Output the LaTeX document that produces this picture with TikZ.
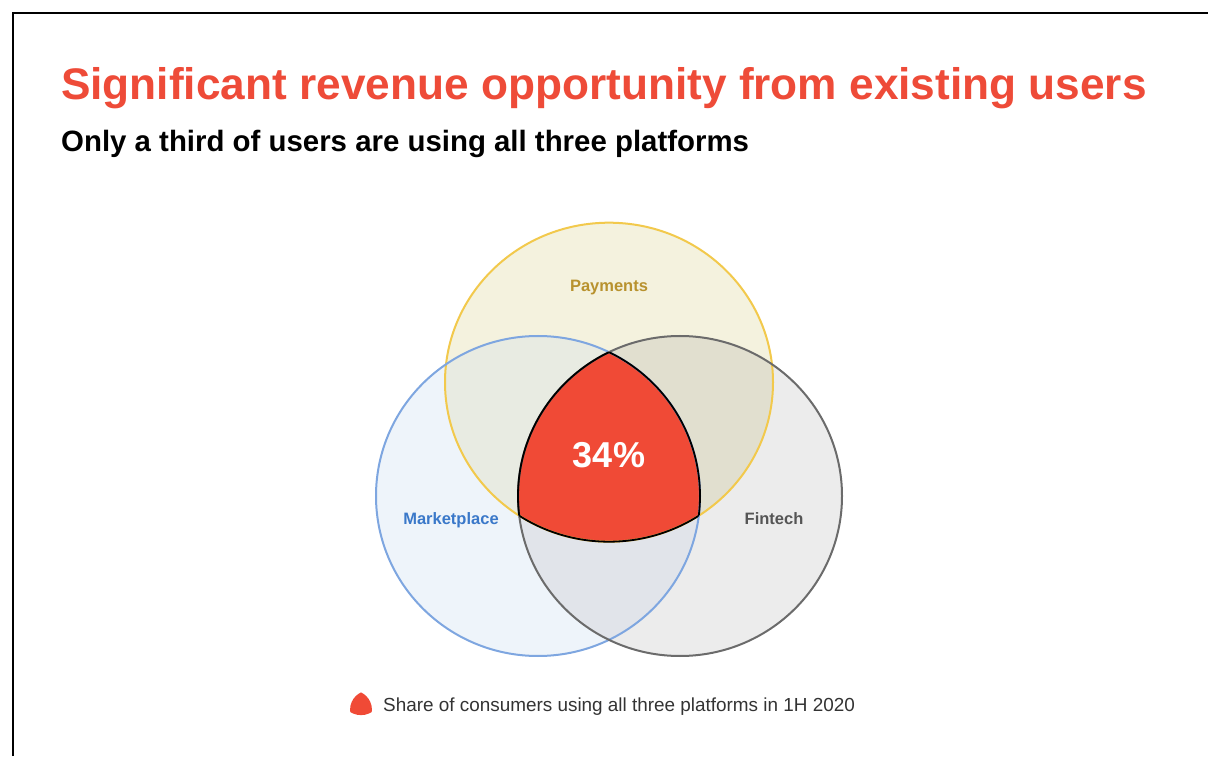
\documentclass[tikz,border=0pt]{standalone}
\usepackage{fontspec}
\setmainfont{Liberation Sans}
\usepackage{tikz}
\usetikzlibrary{calc}

\definecolor{payfill}{HTML}{F4F2DE}
\definecolor{mktfill}{HTML}{EEF4FA}
\definecolor{finfill}{HTML}{ECECEC}
\definecolor{paymkt}{HTML}{E8EBE2}
\definecolor{payfin}{HTML}{E1DFCF}
\definecolor{mktfin}{HTML}{E1E4EA}
\definecolor{payline}{HTML}{F2C94C}
\definecolor{mktline}{HTML}{7EA6E0}
\definecolor{finline}{HTML}{6B6B6B}
\definecolor{shared}{HTML}{F04A36}
\definecolor{titlered}{HTML}{EE4B38}
\definecolor{paytext}{HTML}{B8922E}
\definecolor{mkttext}{HTML}{3A78C9}
\definecolor{fintext}{HTML}{555555}
\definecolor{legendtext}{HTML}{333333}

\tikzset{
  setlabel/.style={font=\fontsize{16.5}{19}\selectfont\bfseries},
  ring/.style={line width=2pt},
  payround/.style={x radius=164, y radius=159.5},
  sideround/.style={x radius=162, y radius=160}
}

\begin{document}
\begin{tikzpicture}[x=1pt,y=1pt]
\useasboundingbox (0, 0) rectangle (1208, 756);

% frame
\draw[line width=2.5pt] (13, 0) -- (13, 743) -- (1208, 743);

\node[anchor=base west, text=titlered, inner sep=0pt] (title) at (61, 656)
  {\fontsize{44.2}{50}\selectfont\bfseries Significant revenue opportunity from existing users};
\node[anchor=base west, inner sep=0pt] (subtitle) at (61, 604)
  {\fontsize{29.4}{34}\selectfont\bfseries Only a third of users are using all three platforms};

\begin{scope}[shift={(609, 307)}]
\coordinate (pay) at (0, 66.8);
\coordinate (mkt) at (-71, -47);
\coordinate (fin) at (71, -47);

% single sets
\fill[payfill] (pay) circle [payround];
\fill[mktfill] (mkt) circle [sideround];
\fill[finfill] (fin) circle [sideround];

% pairs
\begin{scope}
  \clip (pay) circle [payround];
  \fill[paymkt] (mkt) circle [sideround];
  \fill[payfin] (fin) circle [sideround];
\end{scope}
\begin{scope}
  \clip (mkt) circle [sideround];
  \fill[mktfin] (fin) circle [sideround];
\end{scope}

% all three
\begin{scope}
  \clip (mkt) circle [sideround];
  \clip (fin) circle [sideround];
  \fill[shared] (pay) circle [payround];
\end{scope}

\draw[ring, payline] (pay) circle [payround];
\draw[ring, mktline] (mkt) circle [sideround];
\draw[ring, finline] (fin) circle [sideround];

% outline of the shared part
\begin{scope}
  \clip (mkt) circle [sideround];
  \clip (fin) circle [sideround];
  \draw[line width=1.8pt] (pay) circle [payround];
\end{scope}
\begin{scope}
  \clip (pay) circle [payround];
  \clip (fin) circle [sideround];
  \draw[line width=1.8pt] (mkt) circle [sideround];
\end{scope}
\begin{scope}
  \clip (pay) circle [payround];
  \clip (mkt) circle [sideround];
  \draw[line width=1.8pt] (fin) circle [sideround];
\end{scope}
\end{scope}

\node[setlabel, text=paytext] (paylabel) at (609, 468) {Payments};
\node[setlabel, text=mkttext] (mktlabel) at (451, 236) {Marketplace};
\node[setlabel, text=fintext] (finlabel) at (774, 237) {Fintech};
\node[text=white, font=\fontsize{36}{40}\selectfont\bfseries] (share) at (609, 301) {34\%};

% legend
\begin{scope}[shift={(361, 52)}, scale=0.12]
  \clip (-71, -47) circle [sideround];
  \clip (71, -47) circle [sideround];
  \fill[shared] (0, 66.8) circle [payround];
\end{scope}
\node[anchor=base west, inner sep=0pt, text=legendtext] (legend) at (383, 45)
  {\fontsize{18.9}{22}\selectfont Share of consumers using all three platforms in 1H 2020};

\end{tikzpicture}
\end{document}
